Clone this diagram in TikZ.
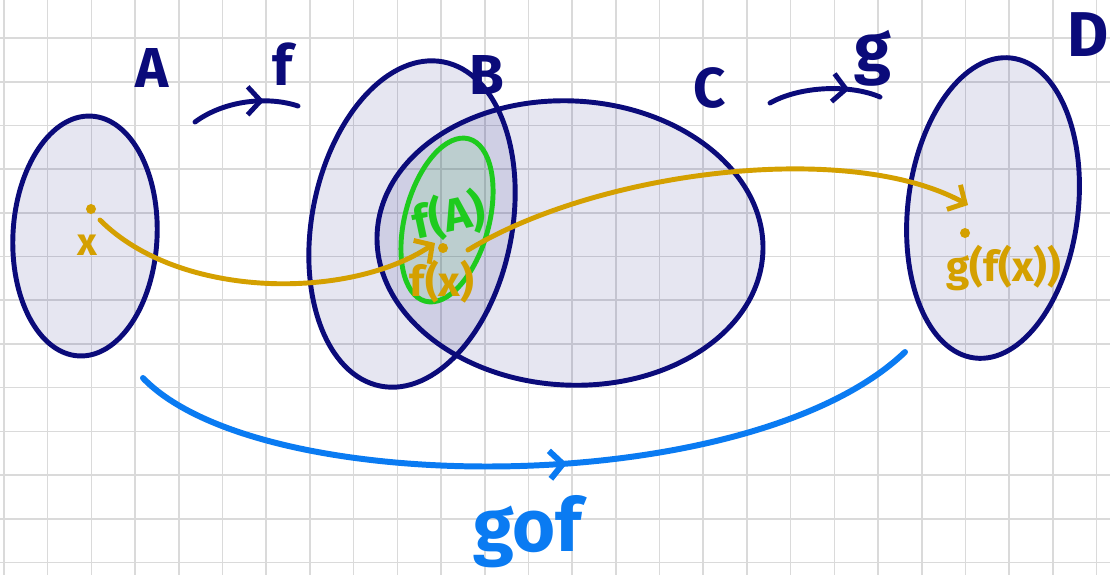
\documentclass[tikz,border=0pt]{standalone}
\usepackage{fontspec}
\setmainfont{Fira Sans}
\usetikzlibrary{arrows.meta,shapes.geometric,decorations.markings}
\definecolor{setnavy}{HTML}{0B0B7A}
\definecolor{mapgold}{HTML}{D4A000}
\definecolor{imggreen}{HTML}{1ECB1E}
\definecolor{compblue}{HTML}{0A7BF2}
\definecolor{gridgray}{HTML}{DADADA}

\begin{document}
\begin{tikzpicture}[x=0.01cm,y=-0.01cm,
 setell/.style={ellipse,draw=setnavy,fill=setnavy,fill opacity=0.1,line width=1.4pt,inner sep=0pt},
 setlab/.style={text=setnavy,font=\fontsize{16}{18}\selectfont\bfseries},
 goldlab/.style={text=mapgold,font=\fontsize{12}{14}\selectfont\bfseries},
 pt/.style={circle,fill=mapgold,inner sep=0pt,minimum size=0.1cm},
 barb/.style={-{Straight Barb[length=1.3mm,width=2.8mm]}},
 midarrow/.style={postaction={decorate},decoration={markings,mark=at position #1 with {\arrow{Straight Barb[length=1.3mm,width=2.8mm]}}}}]
\useasboundingbox (0,0) rectangle (1110,575);
\fill[white] (0,0) rectangle (1110,575);
% grid paper
\foreach \i in {0,...,25} \draw[gridgray,line width=0.45pt] (4+43.7*\i,0) -- (4+43.7*\i,575);
\foreach \j in {1,...,13} \draw[gridgray,line width=0.45pt] (0,-5.7+43.7*\j) -- (1110,-5.7+43.7*\j);

% sets
\node[setell,minimum width=1.44cm,minimum height=2.40cm,rotate=-3] (setA) at (85,236) {};
\node[setell,minimum width=2.00cm,minimum height=3.30cm,rotate=-11] (setB) at (412,224) {};
\node[setell,minimum width=3.86cm,minimum height=2.84cm,rotate=-3] (setC) at (570,243) {};
\node[setell,minimum width=1.70cm,minimum height=3.02cm,rotate=-7] (setD) at (993,208) {};
\node[setell,draw=imggreen,fill=imggreen,minimum width=0.84cm,minimum height=1.68cm,rotate=-15] (setFA) at (447,220) {};

\node[setlab] (labA) at (152,68) {A};
\node[setlab] (labB) at (487,75) {B};
\node[setlab] (labC) at (710,88) {C};
\node[setlab,font=\fontsize{18}{20}\selectfont\bfseries] (labD) at (1088,35) {D};
\node[setlab] (labf) at (283,64) {f};
\node[setlab,font=\fontsize{19}{21}\selectfont\bfseries] (labg) at (873,58) {g};

% maps f and g
\coordinate (fS) at (195,122);
\coordinate (fE) at (298,106);
\draw[setnavy,line width=1.4pt,line cap=round,midarrow=0.68] (fS) .. controls (225,100) and (268,96) .. (fE);
\coordinate (gS) at (770,103);
\coordinate (gE) at (880,97);
\draw[setnavy,line width=1.4pt,line cap=round,midarrow=0.72] (gS) .. controls (800,86) and (850,84) .. (gE);

% points
\node[pt] (ptx) at (91,209) {};
\node[goldlab,font=\fontsize{11}{13}\selectfont\bfseries] (labx) at (87,245) {x};
\node[pt] (ptfx) at (443,248) {};
\node[goldlab] (labfx) at (442,282) {f(x)};
\node[text=imggreen,font=\fontsize{13}{15}\selectfont\bfseries,rotate=12] (labFA) at (449,216) {f(A)};
\node[pt] (ptgfx) at (965,233) {};
\node[goldlab] (labgfx) at (1004,268) {g(f(x))};

% gold path x -> f(x) -> g(f(x))
\coordinate (xS) at (100,220);
\coordinate (fxE) at (435,243);
\draw[mapgold,line width=1.4pt,line cap=round,barb] (xS) .. controls (180,300) and (350,300) .. (fxE);
\coordinate (fxS) at (468,250);
\coordinate (gfxE) at (968,205);
\draw[mapgold,line width=1.4pt,line cap=round,barb] (fxS) .. controls (600,170) and (850,140) .. (gfxE);

% composite g o f
\coordinate (compS) at (143,378);
\coordinate (compE) at (905,352);
\draw[compblue,line width=1.7pt,line cap=round,midarrow=0.55] (compS) .. controls (260,500) and (750,500) .. (compE);
\node[text=compblue,font=\fontsize{21}{23}\selectfont\bfseries] (labgof) at (528,532) {gof};
\end{tikzpicture}
\end{document}
